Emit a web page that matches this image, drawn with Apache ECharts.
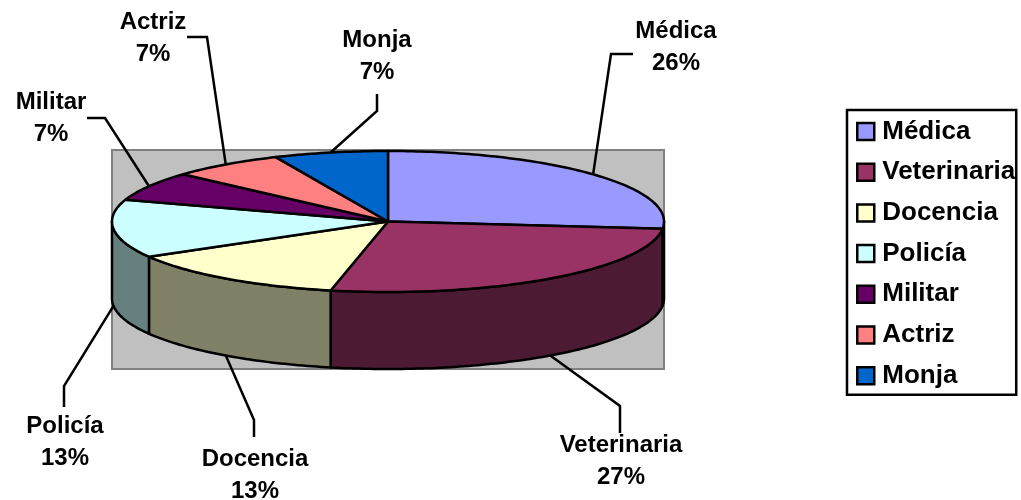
<!DOCTYPE html>
<html>
<head>
<meta charset="utf-8">
<style>
  html, body { margin: 0; padding: 0; background: #fff; }
  #chart { width: 1021px; height: 500px; }
</style>
</head>
<body>
<div id="chart"></div>
<script src="https://cdn.jsdelivr.net/npm/echarts@6/dist/echarts.min.js"></script>
<script>
var categories = ['Médica', 'Veterinaria', 'Docencia', 'Policía', 'Militar', 'Actriz', 'Monja'];
var sliceValues = [4, 4, 2, 2, 1, 1, 1];
var percentLabels = ['26%', '27%', '13%', '13%', '7%', '7%', '7%'];
var topColors = ['#9999FF', '#993366', '#FFFFCC', '#CCFFFF', '#660066', '#FF8080', '#0066CC'];
var sideColors = ['#4D4D80', '#4D1A33', '#808066', '#668080', '#330033', '#804040', '#003366'];

// pie geometry on the page
var pie = { cx: 388, cy: 221.5, rx: 276, ry: 70.5, depth: 77 };
var fontName = '"Liberation Sans", Arial, sans-serif';

// leader line bends and label centres
var leaderBends = [
  [[611, 54], [633, 54]],
  [[620, 406], [620, 433]],
  [[254, 420], [254, 437]],
  [[64, 386], [64, 407]],
  [[105, 118], [87, 118]],
  [[207, 37], [187, 37]],
  [[377, 111], [377, 94]]
];
var labelCentres = [[676, 47], [621, 461], [255, 475], [65, 442], [51, 118], [153, 38], [377, 56]];

var total = sliceValues.reduce(function (a, b) { return a + b; }, 0);

function pointAt(deg, drop) {
  var r = deg * Math.PI / 180;
  return [pie.cx + pie.rx * Math.sin(r), pie.cy - pie.ry * Math.cos(r) + (drop || 0)];
}

function arcPoints(from, to, drop) {
  var pts = [];
  for (var a = from; a < to; a += 1) pts.push(pointAt(a, drop));
  pts.push(pointAt(to, drop));
  return pts;
}

function renderSlice(index) {
  var before = 0;
  for (var i = 0; i < index; i++) before += sliceValues[i];
  var start = before / total * 360;
  var end = (before + sliceValues[index]) / total * 360;
  var mid = (start + end) / 2;
  var line = { stroke: '#000', lineWidth: 2.5, lineJoin: 'round' };
  var children = [];

  // front wall only between 90 and 270 degrees
  var wallFrom = Math.max(start, 90);
  var wallTo = Math.min(end, 270);
  if (wallFrom < wallTo) {
    children.push({
      type: 'polygon',
      z2: 1,
      shape: { points: arcPoints(wallFrom, wallTo, 0).concat(arcPoints(wallFrom, wallTo, pie.depth).reverse()) },
      style: Object.assign({ fill: sideColors[index] }, line)
    });
  }

  children.push({
    type: 'polygon',
    z2: 2,
    shape: { points: [[pie.cx, pie.cy]].concat(arcPoints(start, end, 0)) },
    style: Object.assign({ fill: topColors[index] }, line)
  });

  var front = mid > 90 && mid < 270;
  children.push({
    type: 'polyline',
    z2: 3,
    shape: { points: [pointAt(mid, front ? pie.depth : 0)].concat(leaderBends[index]) },
    style: { stroke: '#000', lineWidth: 2.5, fill: null }
  });

  children.push({
    type: 'text',
    z2: 4,
    style: {
      text: categories[index] + '\n' + percentLabels[index],
      x: labelCentres[index][0],
      y: labelCentres[index][1],
      align: 'center',
      verticalAlign: 'middle',
      lineHeight: 32,
      fill: '#000',
      font: 'bold 24px ' + fontName
    }
  });
  return { type: 'group', children: children };
}

var chart = echarts.init(document.getElementById('chart'));
chart.setOption({
  animation: false,
  backgroundColor: '#fff',
  grid: {
    show: true,
    left: 112,
    top: 150,
    width: 552,
    height: 219,
    backgroundColor: '#C0C0C0',
    borderColor: '#808080',
    borderWidth: 2
  },
  xAxis: { type: 'value', show: false },
  yAxis: { type: 'value', show: false },
  legend: {
    orient: 'vertical',
    left: 847,
    top: 110,
    padding: [8.5, 1, 6, 9],
    itemWidth: 17,
    itemHeight: 17,
    itemGap: 14.7,
    icon: 'rect',
    selectedMode: false,
    backgroundColor: '#fff',
    borderColor: '#000',
    borderWidth: 2.5,
    itemStyle: { borderColor: '#000', borderWidth: 2.5 },
    textStyle: {
      color: '#000',
      fontFamily: fontName,
      fontWeight: 'bold',
      fontSize: 26,
      lineHeight: 26,
      padding: [0, 0, 0, 3]
    },
    data: categories
  },
  series: categories.map(function (name, index) {
    return {
      type: 'custom',
      name: name,
      coordinateSystem: 'none',
      silent: true,
      itemStyle: { color: topColors[index] },
      data: [[sliceValues[index]]],
      renderItem: function () { return renderSlice(index); }
    };
  })
});
</script>
</body>
</html>
